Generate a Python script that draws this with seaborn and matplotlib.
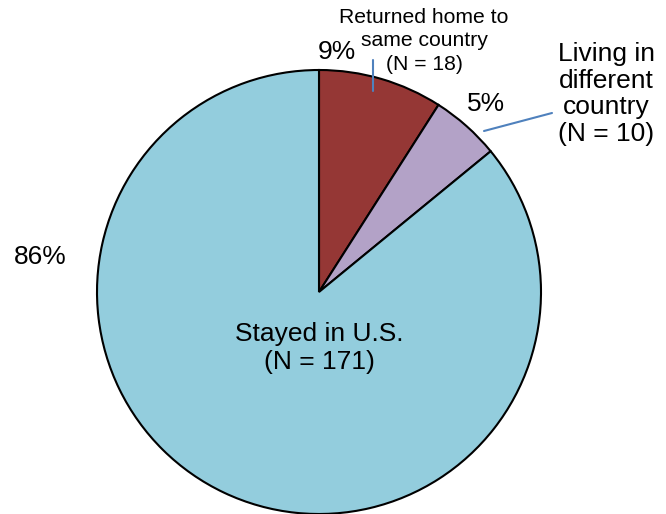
import matplotlib
matplotlib.use("Agg")
import matplotlib.pyplot as plt
import seaborn as sns

# --- data ---
categories = ["Returned home to\nsame country", "Living in\ndifferent\ncountry", "Stayed in U.S."]
counts = [18, 10, 171]
pct_labels = ["9%", "5%", "86%"]
colors = ["#953735", "#B3A2C7", "#93CDDD"]

sns.set_theme(style="white")
plt.rcParams['font.family'] = ['Liberation Sans', 'DejaVu Sans']
plt.rcParams['text.color'] = 'black'

W, H = 666, 514
fig = plt.figure(figsize=(W / 100, H / 100), dpi=100)
ax = fig.add_axes([0, 0, 1, 1])

def py(y):
    # pixel row -> data y
    return H - y

ax.pie(counts, colors=colors, startangle=90, counterclock=False,
       center=(319, py(292)), radius=222, frame=True,
       wedgeprops=dict(edgecolor="black", linewidth=1.5))
ax.set_xlim(0, W)
ax.set_ylim(0, H)
ax.set_aspect("equal")
ax.axis("off")

# percent labels
ax.text(337, py(52), pct_labels[0], fontsize=19, ha="center", va="center")
ax.text(486, py(104), pct_labels[1], fontsize=19, ha="center", va="center")
ax.text(40, py(257), pct_labels[2], fontsize=19, ha="center", va="center")

# category labels
ax.text(424, py(41), f"{categories[0]}\n(N = {counts[0]})", fontsize=15.2,
        ha="center", va="center", linespacing=1.3)
ax.text(606, py(94), f"{categories[1]}\n(N = {counts[1]})", fontsize=19,
        ha="center", va="center", linespacing=1.15)
ax.text(319, py(348), f"{categories[2]}\n(N = {counts[2]})", fontsize=19,
        ha="center", va="center", linespacing=1.25)

# leader lines
ax.plot([373, 373], [py(60), py(91)], color="#4F81BD", lw=1.5)
ax.plot([484, 552], [py(131), py(113)], color="#4F81BD", lw=1.5)

fig.savefig("out.png", dpi=100)
